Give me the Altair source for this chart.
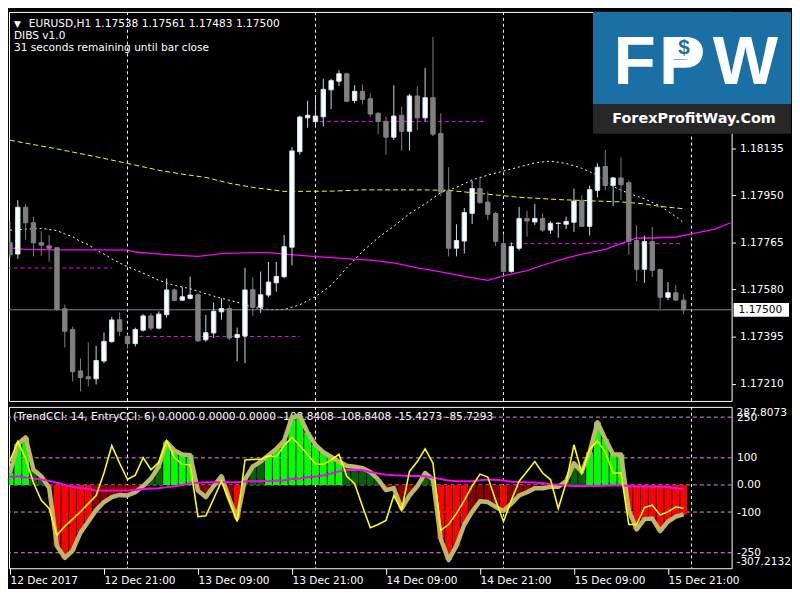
import altair as alt
import pandas as pd

FONT = "DejaVu Sans"
FS = 10.7

# ---------------- main panel values (EURUSD H1) ----------------
opens = [1.17764, 1.17719, 1.17903, 1.17842, 1.17764, 1.17751, 1.17744, 1.17504, 1.17423, 1.17260,
         1.17237, 1.17229, 1.17299, 1.17375, 1.17461, 1.17396, 1.17367, 1.17420, 1.17476, 1.17428,
         1.17481, 1.17578, 1.17538, 1.17545, 1.17559, 1.17382, 1.17409, 1.17492, 1.17505, 1.17391,
         1.17397, 1.17579, 1.17510, 1.17558, 1.17606, 1.17630, 1.17746, 1.18121, 1.18254, 1.18239,
         1.18258, 1.18364, 1.18398, 1.18427, 1.18322, 1.18358, 1.18329, 1.18272, 1.18240, 1.18178,
         1.18264, 1.18201, 1.18340, 1.18254, 1.18333, 1.18192, 1.17966, 1.17742, 1.17770, 1.17879,
         1.17976, 1.17923, 1.17878, 1.17760, 1.17651, 1.17742, 1.17859, 1.17845, 1.17859, 1.17813,
         1.17839, 1.17836, 1.17844, 1.17930, 1.17828, 1.17969, 1.18063, 1.17988, 1.18018, 1.17999,
         1.17772, 1.17659, 1.17768, 1.17658, 1.17549, 1.17567, 1.17538]
highs = [1.17849, 1.17931, 1.17916, 1.17865, 1.17809, 1.17794, 1.17745, 1.17520, 1.17434, 1.17309,
         1.17372, 1.17358, 1.17411, 1.17472, 1.17490, 1.17404, 1.17430, 1.17483, 1.17487, 1.17494,
         1.17623, 1.17583, 1.17590, 1.17631, 1.17567, 1.17480, 1.17529, 1.17545, 1.17518, 1.17430,
         1.17665, 1.17628, 1.17650, 1.17688, 1.17688, 1.17794, 1.18139, 1.18263, 1.18321, 1.18344,
         1.18408, 1.18407, 1.18441, 1.18431, 1.18382, 1.18385, 1.18350, 1.18276, 1.18259, 1.18382,
         1.18298, 1.18348, 1.18378, 1.18450, 1.18571, 1.18272, 1.18060, 1.17836, 1.17900, 1.18007,
         1.18017, 1.17965, 1.17884, 1.17798, 1.17764, 1.17904, 1.17889, 1.17916, 1.17878, 1.17847,
         1.17844, 1.17866, 1.17976, 1.17950, 1.17988, 1.18075, 1.18128, 1.18022, 1.18098, 1.18007,
         1.17832, 1.17791, 1.17825, 1.17662, 1.17609, 1.17597, 1.17561]
lows = [1.17707, 1.17700, 1.17775, 1.17710, 1.17712, 1.17689, 1.17495, 1.17352, 1.17219, 1.17180,
        1.17200, 1.17207, 1.17290, 1.17370, 1.17396, 1.17347, 1.17356, 1.17415, 1.17419, 1.17423,
        1.17469, 1.17534, 1.17534, 1.17540, 1.17373, 1.17375, 1.17390, 1.17461, 1.17381, 1.17298,
        1.17291, 1.17476, 1.17488, 1.17549, 1.17571, 1.17624, 1.17674, 1.18109, 1.18215, 1.18223,
        1.18220, 1.18288, 1.18379, 1.18317, 1.18311, 1.18307, 1.18258, 1.18190, 1.18110, 1.18167,
        1.18125, 1.18125, 1.18205, 1.18239, 1.18182, 1.17947, 1.17710, 1.17710, 1.17721, 1.17837,
        1.17916, 1.17852, 1.17750, 1.17646, 1.17646, 1.17733, 1.17788, 1.17833, 1.17806, 1.17798,
        1.17783, 1.17817, 1.17806, 1.17825, 1.17792, 1.17942, 1.17969, 1.17908, 1.17931, 1.17716,
        1.17613, 1.17606, 1.17629, 1.17504, 1.17538, 1.17537, 1.17483]
closes = [1.17716, 1.17903, 1.17842, 1.17763, 1.17754, 1.17742, 1.17501, 1.17416, 1.17257, 1.17234,
          1.17229, 1.17301, 1.17376, 1.17460, 1.17416, 1.17367, 1.17423, 1.17476, 1.17428, 1.17483,
          1.17578, 1.17537, 1.17551, 1.17558, 1.17378, 1.17410, 1.17494, 1.17505, 1.17389, 1.17403,
          1.17578, 1.17510, 1.17559, 1.17609, 1.17631, 1.17748, 1.18124, 1.18257, 1.18264, 1.18261,
          1.18366, 1.18400, 1.18427, 1.18319, 1.18358, 1.18326, 1.18269, 1.18240, 1.18178, 1.18261,
          1.18201, 1.18340, 1.18254, 1.18333, 1.18190, 1.17962, 1.17742, 1.17772, 1.17882, 1.17976,
          1.17921, 1.17875, 1.17769, 1.17651, 1.17749, 1.17859, 1.17849, 1.17859, 1.17813, 1.17840,
          1.17840, 1.17847, 1.17927, 1.17828, 1.17972, 1.18060, 1.17988, 1.18018, 1.17991, 1.17769,
          1.17659, 1.17768, 1.17655, 1.17549, 1.17567, 1.17538, 1.17500]

yellow_ma_idx = [0, 6, 11, 15, 19, 22, 25, 28, 31, 35, 41, 45, 53, 56, 60, 65, 70, 75, 78, 81, 83, 86]
yellow_ma = [1.18166, 1.18132, 1.18101, 1.18075, 1.18048, 1.18033, 1.18020, 1.17997, 1.17981, 1.17965,
             1.17966, 1.17971, 1.17971, 1.17969, 1.17957, 1.17942, 1.17933, 1.17927, 1.17924, 1.17916,
             1.17906, 1.17897]

white_ma_idx = [0, 4, 6, 7, 8, 9, 10, 11, 12, 13, 14, 15, 17, 19, 21, 23, 25, 27, 29, 31, 33, 35, 37,
                39, 41, 43, 45, 47, 49, 51, 53, 55, 57, 59, 61, 63, 65, 67, 69, 71, 73, 75, 77, 79,
                81, 83, 85, 86]
white_ma = [1.17813, 1.17820, 1.17811, 1.17798, 1.17787, 1.17768, 1.17756, 1.17735, 1.17719, 1.17700,
            1.17684, 1.17669, 1.17644, 1.17616, 1.17596, 1.17583, 1.17563, 1.17545, 1.17530, 1.17510,
            1.17501, 1.17501, 1.17520, 1.17552, 1.17596, 1.17665, 1.17729, 1.17783, 1.17828, 1.17878,
            1.17916, 1.17961, 1.17981, 1.18010, 1.18029, 1.18045, 1.18061, 1.18077, 1.18084, 1.18075,
            1.18056, 1.18029, 1.17984, 1.17957, 1.17936, 1.17908, 1.17866, 1.17842]

magenta_ma_idx = [0, 2, 6, 12, 15, 16, 18, 21, 24, 27, 31, 33, 35, 37, 40, 43, 46, 49, 52, 55, 58, 61,
                  63, 66, 68, 71, 73, 76, 78, 80, 82, 85, 87, 90, 92]
magenta_ma = [1.17743, 1.17737, 1.17735, 1.17735, 1.17734, 1.17727, 1.17722, 1.17715, 1.17710, 1.17721,
              1.17725, 1.17725, 1.17719, 1.17714, 1.17707, 1.17701, 1.17695, 1.17684, 1.17665, 1.17649,
              1.17631, 1.17616, 1.17633, 1.17654, 1.17675, 1.17703, 1.17719, 1.17737, 1.17760, 1.17782,
              1.17782, 1.17786, 1.17798, 1.17817, 1.17842]

level_price = [1.17664, 1.17395, 1.18240, 1.17760]
level_from = [-0.4, 16.5, 39.6, 63.8]
level_to = [13.0, 37.0, 60.9, 85.9]

day_breaks = [15, 39, 63, 87]
current_price = [1.17500]
price_ticks = [1.18135, 1.17950, 1.17765, 1.17580, 1.17395, 1.17210]
price_domain = [1.17142, 1.18670]

header_main = ["EURUSD,H1  1.17538 1.17561 1.17483 1.17500", "DIBS v1.0",
               "31 seconds remaining until bar close"]

# ---------------- CCI panel values ----------------
trend_cci = [44, 151, 175, 56, 32, -10, -225, -269, -242, -176, -135, -93, -63, -45, -37, -39, -27, -4,
             24, 68, 158, 127, 112, 110, -21, -45, -4, 32, -51, -123, 20, 68, 86, 110, 133, 163, 250,
             255, 193, 148, 121, 104, 86, 71, 67, 62, 48, 20, -19, -12, -87, -39, -5, 44, 20, -200,
             -277, -224, -146, -99, -60, -63, -81, -96, -69, -39, -27, -12, -12, -7, -7, 14, 80, 48,
             121, 231, 169, 112, 112, -93, -164, -126, -124, -170, -135, -117, -108.8408]
entry_cci = [88, 160, 98, 8, -57, -87, -186, -152, -126, -99, -69, -39, 44, 145, 80, 20, 36, 101, 56,
             83, 163, 100, 76, 74, -117, -114, -51, 14, -57, -135, 92, 94, 95, 107, 104, 145, 175, 145,
             112, 77, 76, 92, 113, 32, 5, -79, -158, -146, -131, -39, -93, 50, 86, 133, 80, -167, -146,
             -105, -57, -4, 40, 29, -57, -135, -57, 14, 50, 86, 44, 20, -87, 8, 148, 44, 131, 163, 121,
             44, 44, -146, -146, -83, -75, -111, -99, -81, -85.7293]
signal_cci = [29, 32, 27, 24, 20, 15, 8, 0, -7, -12, -15, -21, -21, -21, -21, -21, -19, -15, -13, -12,
              -8, -5, 0, 6, 8, 10, 10, 10, 10, 10, 13, 14, 14, 15, 16, 17, 22, 24, 28, 31, 35, 42, 50,
              55, 56, 55, 48, 42, 38, 36, 35, 33, 33, 32, 27, 22, 16, 14, 14, 14, 17, 20, 19, 16, 12,
              11, 10, 9, 6, 3, 1, -2, -4, -4, -4, -4, -3, -2, -1, -4, -6, -6, -6, -6, -8, -12, -15.4273]
hist_state = ["L", "L", "L", "G", "G", "R", "R", "R", "R", "R", "R", "D", "D", "D", "D", "D", "D", "D",
              "G", "G", "L", "L", "L", "L", "D", "D", "D", "G", "D", "R", "G", "G", "G", "L", "L", "L",
              "L", "L", "L", "L", "L", "L", "L", "G", "G", "G", "G", "G", "D", "D", "D", "D", "D", "G",
              "G", "R", "R", "R", "R", "D", "D", "D", "D", "R", "D", "D", "D", "D", "D", "D", "D", "G",
              "G", "G", "L", "L", "L", "L", "L", "R", "R", "R", "R", "R", "R", "R", "R"]
cci_levels = [250, 100, 0, -100, -250]
cci_domain = [-307.2132, 287.8073]
header_cci = "(TrendCCI: 14, EntryCCI: 6)  0.0000 0.0000 0.0000 -108.8408 -108.8408 -15.4273 -85.7293"

x_tick_idx = [0, 12, 24, 36, 48, 60, 72, 84]
x_tick_labels = ["12 Dec 2017", "12 Dec 21:00", "13 Dec 09:00", "13 Dec 21:00",
                 "14 Dec 09:00", "14 Dec 21:00", "15 Dec 09:00", "15 Dec 21:00"]

logo_letters = ["F", "P", "W"]
logo_small = "ForexProfitWay.Com"

# ---------------- layout ----------------
W = 730
H1 = 393
H2 = 163
BLUE = "#1a6fa5"
xs = alt.Scale(domain=[-0.125, 92.125], nice=False, zero=False)
ys = alt.Scale(domain=price_domain, nice=False, zero=False)
ys2 = alt.Scale(domain=cci_domain, nice=False, zero=False)

price_axis = alt.Axis(orient="right", values=price_ticks, format=".5f", tickSize=4, labelPadding=4,
                      domain=False, grid=False, title=None, labelFlush=False, labelOverlap=False,
                      labelColor="white", tickColor="white", labelFont=FONT, labelFontSize=FS)
cci_axis = alt.Axis(orient="right", values=cci_levels,
                    labelExpr="datum.value == 0 ? '0.00' : '' + datum.value",
                    ticks=False, labelPadding=5, domain=False, grid=False, title=None,
                    labelFlush=False, labelOverlap=False, labelColor="white",
                    labelFont=FONT, labelFontSize=FS)
label_expr = "[" + ",".join("'%s'" % s for s in x_tick_labels) + "][round(datum.value / 12)]"
x_axis = alt.Axis(orient="bottom", values=x_tick_idx, labelExpr=label_expr, tickSize=6,
                  labelAlign="left", labelBaseline="top", labelPadding=1, labelFlush=False,
                  labelOverlap=False, domain=False, grid=False, title=None, labelColor="white",
                  tickColor="white", labelFont=FONT, labelFontSize=FS)


def X1(f):
    return alt.X(f"{f}:Q", scale=xs, axis=None)


def Y1(f):
    return alt.Y(f"{f}:Q", scale=ys, axis=price_axis)


def X2(f):
    return alt.X(f"{f}:Q", scale=xs, axis=x_axis)


def Y2(f):
    return alt.Y(f"{f}:Q", scale=ys2, axis=cci_axis)


candles = pd.DataFrame({"i": list(range(len(opens))), "open": opens, "high": highs,
                        "low": lows, "close": closes})
candles["dir"] = ["up" if c >= o else "down" for o, c in zip(opens, closes)]

dirs = ["up", "down"]
wicks = alt.Chart(candles).mark_rule(strokeWidth=1, clip=True).encode(
    x=X1("i"), y=Y1("low"), y2="high:Q",
    color=alt.Color("dir:N", scale=alt.Scale(domain=dirs, range=["#C4DAE4", "#808080"]), legend=None),
)
bodies = alt.Chart(candles).transform_calculate(
    xa="datum.i - 0.28", xb="datum.i + 0.28"
).mark_rect(strokeWidth=1, clip=True).encode(
    x=X1("xa"), x2="xb:Q", y=Y1("open"), y2="close:Q",
    fill=alt.Fill("dir:N", scale=alt.Scale(domain=dirs, range=["#FFFFFF", "#808080"]), legend=None),
    stroke=alt.Stroke("dir:N", scale=alt.Scale(domain=dirs, range=["#CFE6F0", "#808080"]), legend=None),
)

ma_y = alt.Chart(pd.DataFrame({"i": yellow_ma_idx, "p": yellow_ma})).mark_line(
    color="#FFFF00", strokeWidth=1, strokeDash=[5, 3], clip=True).encode(x=X1("i"), y=Y1("p"))
ma_w = alt.Chart(pd.DataFrame({"i": white_ma_idx, "p": white_ma})).mark_line(
    color="#FFFFFF", strokeWidth=1, strokeDash=[2, 3], clip=True).encode(x=X1("i"), y=Y1("p"))
ma_m = alt.Chart(pd.DataFrame({"i": magenta_ma_idx, "p": magenta_ma})).mark_line(
    color="#FF00FF", strokeWidth=1.3, clip=True).encode(x=X1("i"), y=Y1("p"))

levels = alt.Chart(pd.DataFrame({"a": level_from, "b": level_to, "p": level_price})).mark_rule(
    color="#FF00FF", strokeWidth=1, strokeDash=[4, 3], clip=True).encode(x=X1("a"), x2="b:Q", y=Y1("p"))

cp = pd.DataFrame({"p": current_price, "t": [f"{v:.5f}" for v in current_price]})
cur_line = alt.Chart(cp).mark_rule(color="#778899", strokeWidth=1).encode(y=Y1("p"))
vgrid_top = alt.Chart(pd.DataFrame({"i": day_breaks})).mark_rule(
    color="white", strokeWidth=1, strokeDash=[3, 3]).encode(x=X1("i"))

cur_box = alt.Chart(cp).mark_rect(color="white", yOffset=-7, y2Offset=7).encode(
    x=alt.value(W + 2), x2=alt.value(W + 58), y=Y1("p"), y2="p:Q")
cur_txt = alt.Chart(cp).mark_text(align="left", baseline="middle", color="black",
                                  font=FONT, fontSize=FS).encode(
    x=alt.value(W + 7), y=Y1("p"), text="t:N")

one = pd.DataFrame({"k": [0]})
hdr_tri = alt.Chart(one).mark_text(text="\u25bc", align="left", baseline="middle", color="white",
                                   font=FONT, fontSize=9).encode(x=alt.value(5), y=alt.value(12))
hdr1 = alt.Chart(pd.DataFrame({"t": [header_main[0]]})).mark_text(
    align="left", baseline="middle", color="white", font=FONT, fontSize=FS).encode(
    x=alt.value(20), y=alt.value(12), text="t:N")
hdr2 = alt.Chart(pd.DataFrame({"t": [header_main[1]]})).mark_text(
    align="left", baseline="middle", color="white", font=FONT, fontSize=FS).encode(
    x=alt.value(5), y=alt.value(24), text="t:N")
hdr3 = alt.Chart(pd.DataFrame({"t": [header_main[2]]})).mark_text(
    align="left", baseline="middle", color="white", font=FONT, fontSize=FS).encode(
    x=alt.value(5), y=alt.value(36), text="t:N")

# logo
logo_bg = alt.Chart(one).mark_rect(color=BLUE).encode(
    x=alt.value(W - 140), x2=alt.value(W + 60), y=alt.value(0), y2=alt.value(93))
logo_band = alt.Chart(one).mark_rect(color="#282828").encode(
    x=alt.value(W - 140), x2=alt.value(W + 60), y=alt.value(93), y2=alt.value(123))
logo_F = alt.Chart(pd.DataFrame({"t": [logo_letters[0]]})).mark_text(
    align="center", baseline="alphabetic", color="white", font="Liberation Sans",
    fontWeight="bold", fontSize=70).encode(x=alt.value(W - 98), y=alt.value(73), text="t:N")
logo_P = alt.Chart(pd.DataFrame({"t": [logo_letters[1]]})).mark_text(
    align="center", baseline="alphabetic", color="white", font="Liberation Sans",
    fontWeight="bold", fontSize=70).encode(x=alt.value(W - 50), y=alt.value(73), text="t:N")
logo_W = alt.Chart(pd.DataFrame({"t": [logo_letters[2]]})).mark_text(
    align="center", baseline="alphabetic", color="white", font="Liberation Sans",
    fontWeight="bold", fontSize=70).encode(x=alt.value(W + 14), y=alt.value(73), text="t:N")
logo_fill = alt.Chart(one).mark_rect(color="white").encode(
    x=alt.value(W - 60), x2=alt.value(W - 38), y=alt.value(28), y2=alt.value(48))
logo_dollar = alt.Chart(one).mark_text(
    text="$", align="center", baseline="middle", color=BLUE, font="Liberation Sans",
    fontWeight="bold", fontSize=21).encode(x=alt.value(W - 48), y=alt.value(37))
logo_sub = alt.Chart(pd.DataFrame({"t": [logo_small]})).mark_text(
    align="center", baseline="middle", color="white", font=FONT, fontWeight="bold",
    fontSize=14.5).encode(x=alt.value(W - 38), y=alt.value(108), text="t:N")

top = alt.layer(
    vgrid_top, levels, ma_y, ma_w, ma_m, cur_line, wicks, bodies,
    hdr_tri, hdr1, hdr2, hdr3, logo_bg, logo_band, logo_F, logo_P, logo_W, logo_fill,
    logo_dollar, logo_sub, cur_box, cur_txt,
).properties(width=W, height=H1)

# ---------------- lower panel ----------------
cci = pd.DataFrame({"i": list(range(len(trend_cci))), "trend": trend_cci, "entry": entry_cci,
                    "signal": signal_cci, "state": hist_state})

hdr_cci = alt.Chart(pd.DataFrame({"t": [header_cci]})).mark_text(
    align="left", baseline="middle", color="white", font=FONT, fontSize=FS).encode(
    x=alt.value(4), y=alt.value(10), text="t:N")
lvl = alt.Chart(pd.DataFrame({"v": cci_levels})).mark_rule(
    color="#E58BE5", strokeWidth=1, strokeDash=[4, 3]).encode(y=Y2("v"))
vgrid_bot = alt.Chart(pd.DataFrame({"i": day_breaks})).mark_rule(
    color="white", strokeWidth=1, strokeDash=[3, 3]).encode(x=X2("i"))
hist = alt.Chart(cci).transform_calculate(
    xa="datum.i - 0.44", xb="datum.i + 0.44", zero="0"
).mark_rect(clip=True).encode(
    x=X2("xa"), x2="xb:Q", y=Y2("trend"), y2="zero:Q",
    fill=alt.Fill("state:N", scale=alt.Scale(domain=["L", "G", "R", "D"],
                                             range=["#00FF00", "#006400", "#FF0000", "#8B0000"]),
                  legend=None),
)
trend_line = alt.Chart(cci).mark_line(color="#BDB76B", strokeWidth=4.5, strokeJoin="round",
                                      clip=True).encode(x=X2("i"), y=Y2("trend"))
signal_line = alt.Chart(cci).mark_line(color="#FF00FF", strokeWidth=2, clip=True).encode(
    x=X2("i"), y=Y2("signal"))
entry_line = alt.Chart(cci).mark_line(color="#FFFF00", strokeWidth=1.6, clip=True).encode(
    x=X2("i"), y=Y2("entry"))

ext = pd.DataFrame({"v": cci_domain, "t": ["%.4f" % v for v in cci_domain]})
ext_top = alt.Chart(ext).transform_filter("datum.v > 0").mark_text(
    align="left", baseline="top", dy=1, color="white", font=FONT, fontSize=FS).encode(
    x=alt.value(W + 5), y=Y2("v"), text="t:N")
ext_bot = alt.Chart(ext).transform_filter("datum.v < 0").mark_text(
    align="left", baseline="bottom", dy=-1, color="white", font=FONT, fontSize=FS).encode(
    x=alt.value(W + 5), y=Y2("v"), text="t:N")

bottom = alt.layer(
    hdr_cci, lvl, vgrid_bot, hist, trend_line, signal_line, entry_line, ext_top, ext_bot,
).properties(width=W, height=H2)

chart = alt.vconcat(top, bottom, spacing=4).resolve_scale(
    fill="independent", stroke="independent", color="independent"
).properties(
    background="black", padding=0
).configure_view(stroke="white", strokeWidth=1)

chart.save("out.html", embed_options={"renderer": "svg", "actions": False})
